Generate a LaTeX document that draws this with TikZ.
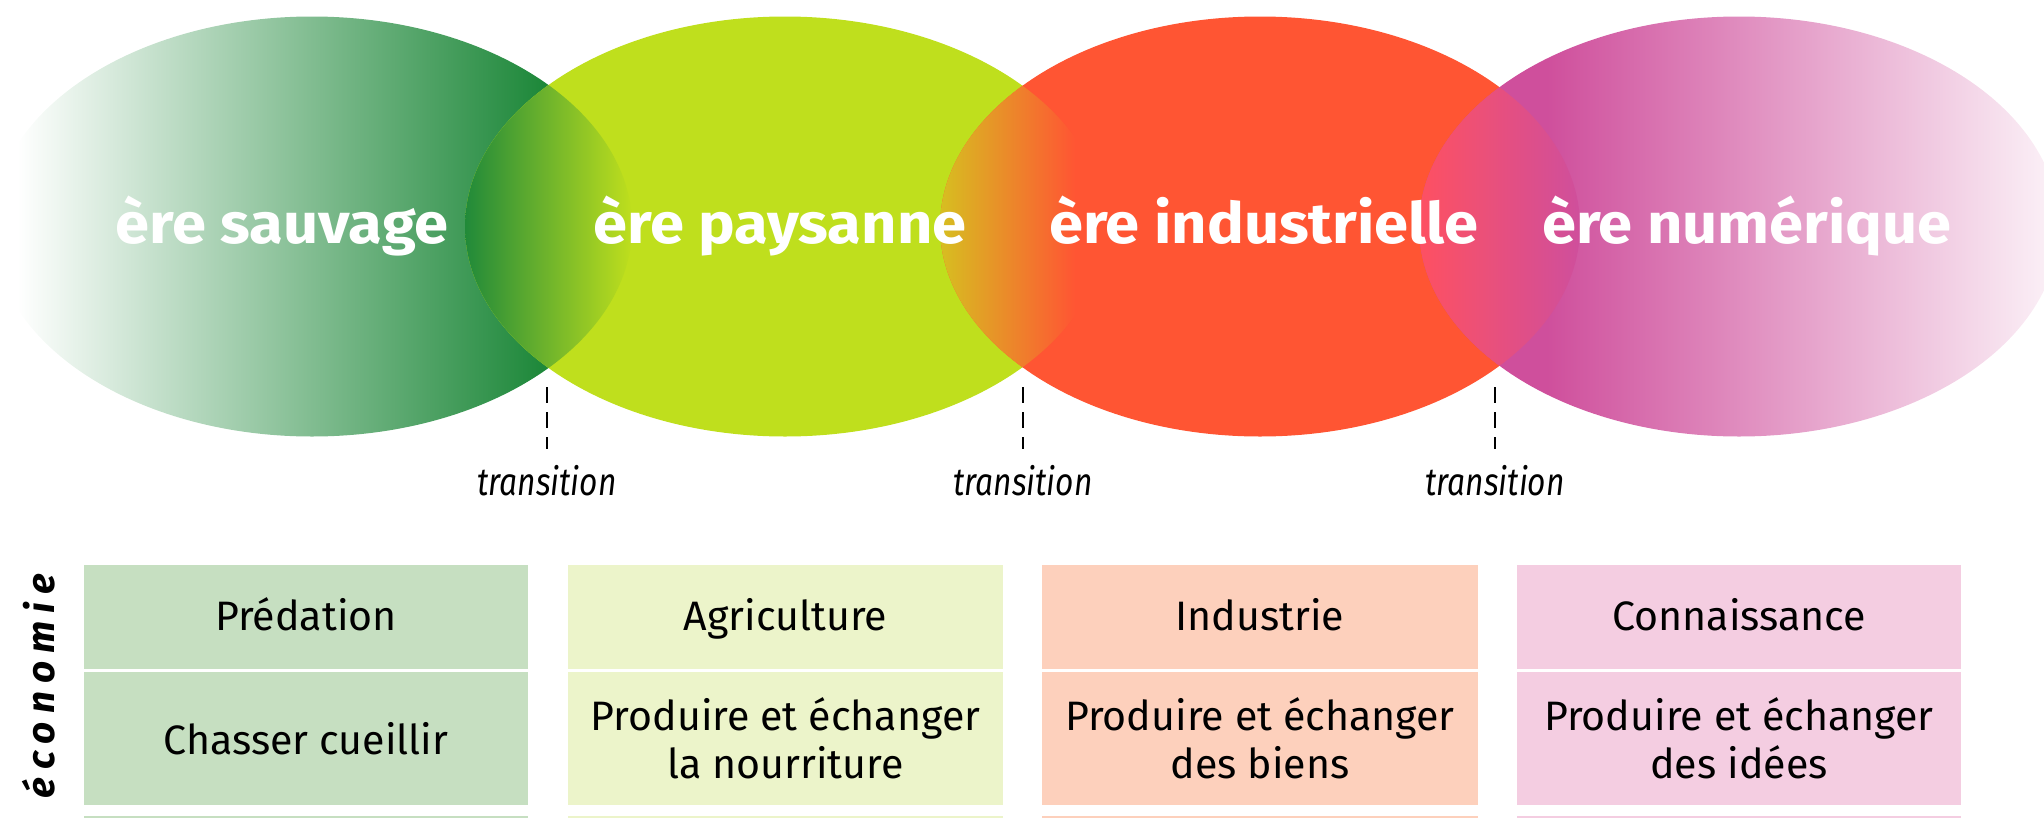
\documentclass[tikz,border=0pt]{standalone}
\usepackage{fontspec}
\setmainfont{Fira Sans}
\newfontfamily\widefont[FakeStretch=1.08]{Fira Sans}
\newfontfamily\condfont[FakeStretch=0.82]{Fira Sans}
\usepackage{tikz}
\usetikzlibrary{shapes.geometric}
\usepackage{xcolor}

\definecolor{sauvage}{HTML}{1E883A}
\definecolor{paysanne}{HTML}{BFDF1D}
\definecolor{industrielle}{HTML}{FF5533}
\definecolor{numerique}{HTML}{CF4F9C}
\definecolor{predation}{HTML}{C6DFC1}
\definecolor{agriculture}{HTML}{ECF4CA}
\definecolor{industrie}{HTML}{FDD0BC}
\definecolor{connaissance}{HTML}{F4CDE1}
\definecolor{lensolive}{HTML}{D6C020}
\definecolor{lensorange}{HTML}{F58A30}
\definecolor{lenspink}{HTML}{FF5060}

% fading gradients of the two outer eras
\pgfdeclarehorizontalshading{sauvagefade}{100bp}{color(0bp)=(white); color(27bp)=(white);
  color(68bp)=(sauvage); color(100bp)=(sauvage)}
\pgfdeclarehorizontalshading{numeriquefade}{100bp}{color(0bp)=(numerique); color(35bp)=(numerique);
  color(78bp)=(white); color(100bp)=(white)}

\begin{document}
\begin{tikzpicture}[era/.style={shape=ellipse,
        inner sep=0pt,
        minimum width=6.4cm,
        minimum height=4.2cm},
      eratitle/.style={text=white,
        anchor=base,
        font=\widefont\bfseries\fontsize{16.2}{18}\selectfont},
      ecobox/.style={shape=rectangle,
        inner sep=0pt,
        align=center,
        font=\fontsize{11.7}{13.6}\selectfont},
      ecohead/.style={ecobox,
        text height=0.75em,
        text depth=0pt},
      translabel/.style={anchor=base,
        inner sep=0pt,
        font=\condfont\itshape\fontsize{11}{12}\selectfont},
      cutline/.style={draw=black,
        line width=0.4pt,
        dash pattern=on 0.16cm off 0.09cm,
        shorten <=0.17cm,
        shorten >=0.15cm}]
      %\draw[help lines] (0,0) grid (21,-9); % Only for Development
      \path[use as bounding box,clip] (0,0) rectangle (20.44,-8.17);

      % the four eras
      \node[era,
        shading=sauvagefade] (sauvage) at (3.12,-2.265) {};
      \node[era,
        fill=paysanne] (paysanne) at (7.85,-2.265) {};
      \node[era,
        fill=industrielle] (industrielle) at (12.60,-2.265) {};
      \node[era,
        shading=numeriquefade] (numerique) at (17.39,-2.265) {};

      % overlaps
      \begin{scope}
        \clip (3.12,-2.265) ellipse (3.2 and 2.1);
        \clip (7.85,-2.265) ellipse (3.2 and 2.1);
        \shade[left color=sauvage,right color=paysanne] (4.62,0) rectangle (6.32,-4.5);
      \end{scope}
      \begin{scope}
        \clip (7.85,-2.265) ellipse (3.2 and 2.1);
        \clip (12.60,-2.265) ellipse (3.2 and 2.1);
        \shade[left color=lensolive,middle color=lensorange,right color=industrielle] (9.38,0) rectangle (10.75,-4.5);
      \end{scope}
      \begin{scope}
        \clip (12.60,-2.265) ellipse (3.2 and 2.1);
        \clip (17.39,-2.265) ellipse (3.2 and 2.1);
        \shade[left color=lenspink,right color=numerique] (14.15,0) rectangle (15.80,-4.5);
      \end{scope}

      \node[eratitle] (tsauvage) at (2.82,-2.43) {ère sauvage};
      \node[eratitle] (tpaysanne) at (7.80,-2.43) {ère paysanne};
      \node[eratitle] (tindustrielle) at (12.64,-2.43) {ère industrielle};
      \node[eratitle] (tnumerique) at (17.47,-2.43) {ère numérique};

      % transitions
      \coordinate (cut12) at (5.47,-3.70);
      \coordinate (cut23) at (10.23,-3.70);
      \coordinate (cut34) at (14.95,-3.70);
      \node[translabel] (trans12) at (5.47,-4.95) {transition};
      \node[translabel] (trans23) at (10.23,-4.95) {transition};
      \node[translabel] (trans34) at (14.95,-4.95) {transition};
      \draw[cutline] (cut12) -- (trans12);
      \draw[cutline] (cut23) -- (trans23);
      \draw[cutline] (cut34) -- (trans34);

      % economy table
      \node[rotate=90,
        font=\bfseries\itshape\addfontfeature{LetterSpace=21}\fontsize{11}{13}\selectfont] (economie) at (0.39,-6.86) {économie};

      \node[ecohead,
        fill=predation,
        minimum width=4.44cm,
        minimum height=1.04cm] (predation) at (3.06,-6.17) {Prédation};
      \node[ecobox,
        fill=predation,
        minimum width=4.44cm,
        minimum height=1.33cm] (chasser) at (3.06,-7.385) {Chasser cueillir};
      \node[ecobox,
        fill=predation,
        minimum width=4.44cm,
        minimum height=1cm] (predation3) at (3.06,-8.66) {};

      \node[ecohead,
        fill=agriculture,
        minimum width=4.35cm,
        minimum height=1.04cm] (agriculture) at (7.855,-6.17) {Agriculture};
      \node[ecobox,
        fill=agriculture,
        minimum width=4.35cm,
        minimum height=1.33cm] (nourriture) at (7.855,-7.385) {Produire et échanger\\la nourriture};
      \node[ecobox,
        fill=agriculture,
        minimum width=4.35cm,
        minimum height=1cm] (agriculture3) at (7.855,-8.66) {};

      \node[ecohead,
        fill=industrie,
        minimum width=4.36cm,
        minimum height=1.04cm] (industrie) at (12.60,-6.17) {Industrie};
      \node[ecobox,
        fill=industrie,
        minimum width=4.36cm,
        minimum height=1.33cm] (biens) at (12.60,-7.385) {Produire et échanger\\des biens};
      \node[ecobox,
        fill=industrie,
        minimum width=4.36cm,
        minimum height=1cm] (industrie3) at (12.60,-8.66) {};

      \node[ecohead,
        fill=connaissance,
        minimum width=4.44cm,
        minimum height=1.04cm] (connaissance) at (17.39,-6.17) {Connaissance};
      \node[ecobox,
        fill=connaissance,
        minimum width=4.44cm,
        minimum height=1.33cm] (idees) at (17.39,-7.385) {Produire et échanger\\des idées};
      \node[ecobox,
        fill=connaissance,
        minimum width=4.44cm,
        minimum height=1cm] (connaissance3) at (17.39,-8.66) {};

    \end{tikzpicture}
\end{document}
